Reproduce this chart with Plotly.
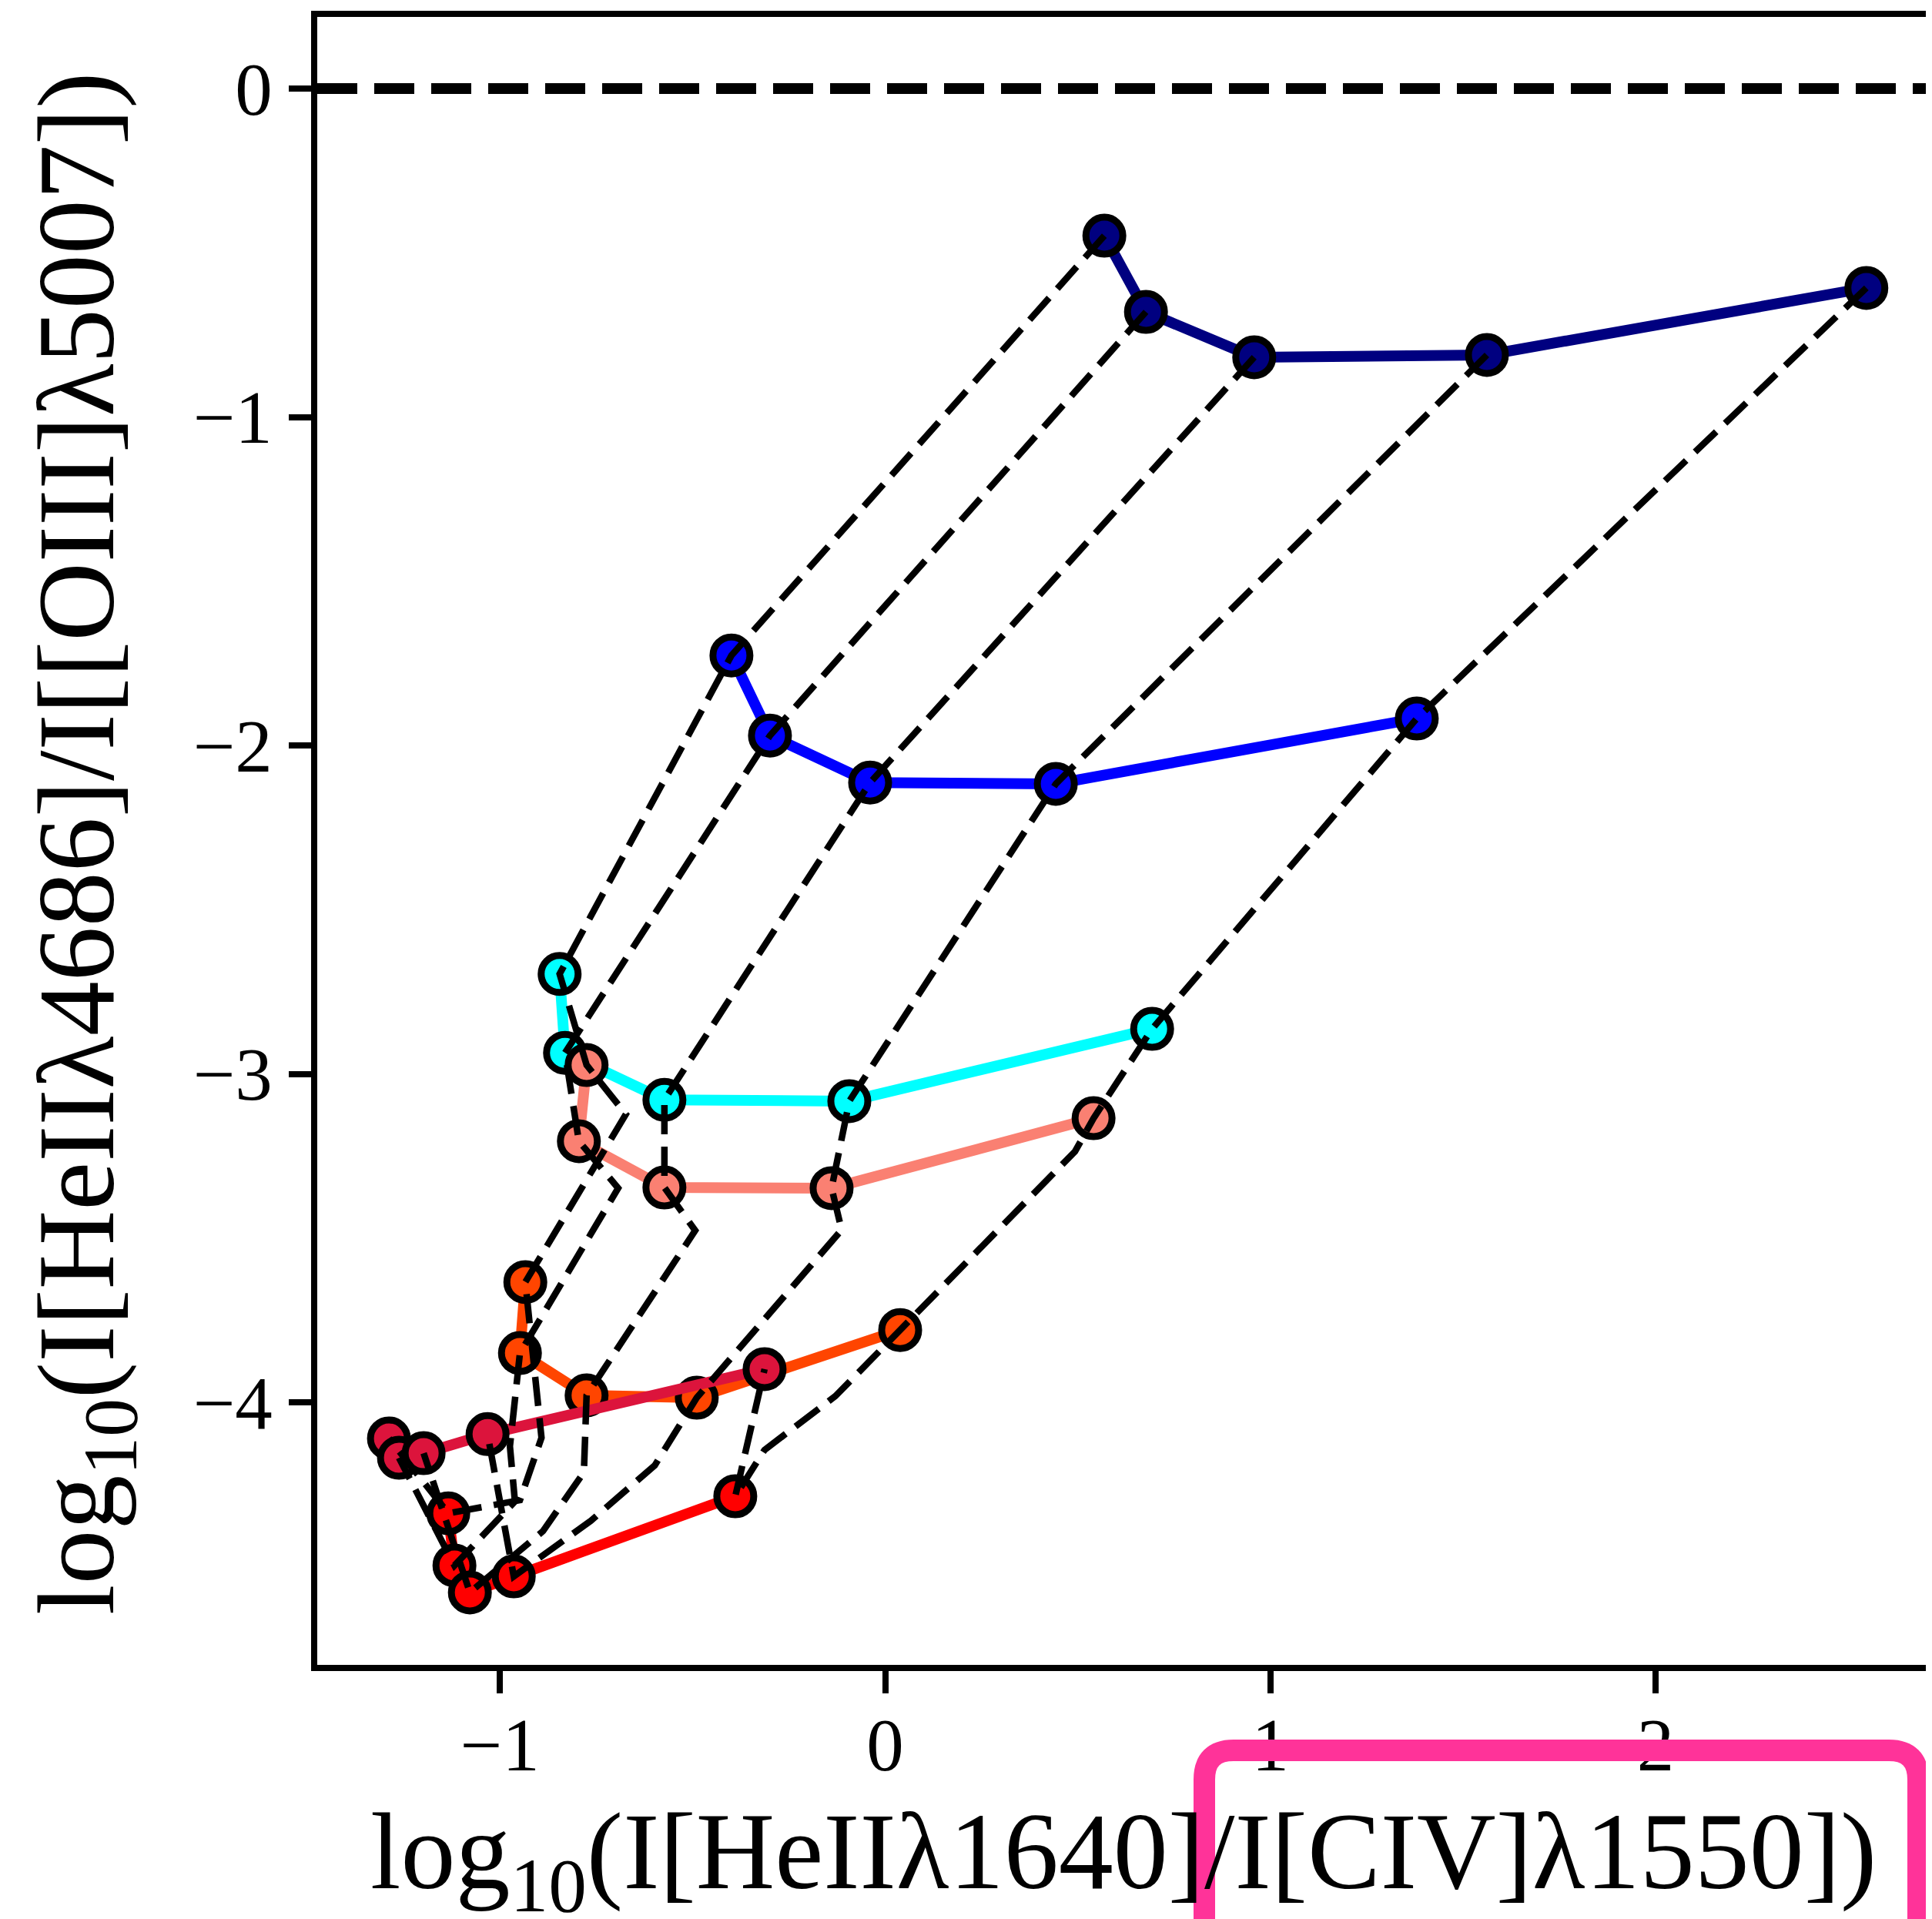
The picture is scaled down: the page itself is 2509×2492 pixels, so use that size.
import plotly.graph_objects as go

# ---------------- data ----------------
navy_x = [0.569, 0.677, 0.958, 1.562, 2.547]
navy_y = [-0.448, -0.680, -0.818, -0.811, -0.607]
blue_x = [-0.399, -0.299, -0.039, 0.443, 1.380]
blue_y = [-1.726, -1.970, -2.113, -2.117, -1.918]
cyan_x = [-0.845, -0.831, -0.573, -0.093, 0.693]
cyan_y = [-2.696, -2.936, -3.079, -3.083, -2.863]
salmon_x = [-0.775, -0.795, -0.573, -0.139, 0.541]
salmon_y = [-2.973, -3.205, -3.346, -3.348, -3.135]
orangered_x = [-0.934, -0.948, -0.775, -0.489, 0.039]
orangered_y = [-3.634, -3.850, -3.979, -3.986, -3.780]
crimson_x = [-1.288, -1.262, -1.198, -1.032, -0.313]
crimson_y = [-4.110, -4.169, -4.155, -4.097, -3.899]
red_x = [-1.134, -1.118, -1.078, -0.964, -0.389]
red_y = [-4.338, -4.497, -4.579, -4.530, -4.286]

# unmarked grid points that the dashed lines bend through
gridA_x = [-0.673, -0.693, -0.493, -0.113, 0.493]
gridA_y = [-3.123, -3.348, -3.477, -3.475, -3.236]
gridB_x = [-0.892, -0.974, -0.782, -0.598, -0.129]
gridB_y = [-4.108, -4.134, -4.213, -4.192, -3.981]
gridC_x = [-0.948, -0.961, -0.888, -0.764, -0.313]
gridC_y = [-4.298, -4.302, -4.392, -4.361, -4.145]

x_ticks = [-1, 0, 1, 2]
x_ticklabels = ["\u22121", "0", "1", "2"]
y_ticks = [0, -1, -2, -3, -4]
y_ticklabels = ["0", "\u22121", "\u22122", "\u22123", "\u22124"]

x_title = "log<sub>10</sub>(I[HeII\u03bb1640]/I[CIV]\u03bb1550])"
y_title = "log<sub>10</sub>(I[HeII\u03bb4686]/I[[OIII]\u03bb5007])"

# ---------------- styling / layout ----------------
OFF = 8                      # browser body margin
W, H = 2509 - OFF, 2492 - OFF
L = 412 - OFF
T = 22 - OFF
PLOT_BOTTOM = 2162 - OFF
B = H - PLOT_BOTTOM
R = 0
FONT = "Liberation Serif"

marked = [
    (navy_x, navy_y, "#000080"),
    (blue_x, blue_y, "#0000FF"),
    (cyan_x, cyan_y, "#00FFFF"),
    (salmon_x, salmon_y, "#FA8072"),
    (orangered_x, orangered_y, "#FF4500"),
    (crimson_x, crimson_y, "#DC143C"),
    (red_x, red_y, "#FF0000"),
]

fig = go.Figure()
for xs, ys, col in marked:
    fig.add_trace(go.Scatter(
        x=xs, y=ys, mode="lines+markers",
        line=dict(color=col, width=14),
        marker=dict(color=col, size=48, line=dict(color="black", width=9)),
        showlegend=False, hoverinfo="skip",
    ))

# dashed iso-lines: same index across the sequence of models
chain = [
    (navy_x, navy_y), (blue_x, blue_y), (cyan_x, cyan_y), (salmon_x, salmon_y),
    (gridA_x, gridA_y), (orangered_x, orangered_y), (gridB_x, gridB_y),
    (gridC_x, gridC_y), (red_x, red_y), (crimson_x, crimson_y),
]
for i in range(len(navy_x)):
    fig.add_trace(go.Scatter(
        x=[c[0][i] for c in chain], y=[c[1][i] for c in chain],
        mode="lines", line=dict(color="black", width=8.5, dash="38px,16px"),
        showlegend=False, hoverinfo="skip",
    ))

plot_w = W - L - R
plot_h = H - T - B
px_per_x = 500.3
px_per_y = 426.5
x0_px = 1149.5 - 412         # pixel of x=0 from plot left edge
y0_px = 115 - 22             # pixel of y=0 from plot top edge
x_range = [-x0_px / px_per_x, (plot_w - x0_px) / px_per_x]
y_range = [-(plot_h - y0_px) / px_per_y, y0_px / px_per_y]

axis_common = dict(
    showline=True, linecolor="black", linewidth=7.5,
    ticks="outside", ticklen=29, tickwidth=7.5, tickcolor="black",
    showgrid=False, zeroline=False,
    tickfont=dict(family=FONT, size=97, color="black"),
)
fig.update_xaxes(range=x_range, tickvals=x_ticks, ticktext=x_ticklabels,
                 mirror=True, ticklabelstandoff=-16, **axis_common)
fig.update_yaxes(range=y_range, tickvals=y_ticks, ticktext=y_ticklabels,
                 mirror=False, ticklabelstandoff=2, **axis_common)

# horizontal reference line at zero
fig.add_shape(type="line", xref="paper", yref="y", x0=0, x1=1, y0=0, y1=0,
              line=dict(color="black", width=14, dash="52px,22px"))


def px2paper(X, Y):
    """reference-image pixel -> paper coordinates"""
    fx, fy = X - OFF, Y - OFF
    return (fx - L) / plot_w, (H - B - fy) / plot_h


# hand-drawn pink highlight box around part of the x label
lx, rx, ty, by, rr = 1564, 2491, 2273, 2560, 38
pts = [px2paper(lx, by), px2paper(lx, ty + rr), px2paper(lx, ty), px2paper(lx + rr, ty),
       px2paper(rx - rr, ty), px2paper(rx, ty), px2paper(rx, ty + rr), px2paper(rx, by)]
path = ("M {0[0]},{0[1]} L {1[0]},{1[1]} Q {2[0]},{2[1]} {3[0]},{3[1]} "
        "L {4[0]},{4[1]} Q {5[0]},{5[1]} {6[0]},{6[1]} L {7[0]},{7[1]}").format(*pts)
fig.add_shape(type="path", xref="paper", yref="paper", path=path,
              line=dict(color="#FF3399", width=28), layer="above")

# axis titles
fig.add_annotation(text=x_title, xref="paper", yref="paper",
                   x=px2paper(1459, 0)[0], y=px2paper(0, 2414)[1],
                   xanchor="center", yanchor="middle", showarrow=False,
                   font=dict(family=FONT, size=142, color="black"))
fig.add_annotation(text=y_title, xref="paper", yref="paper",
                   x=px2paper(109, 0)[0], y=px2paper(0, 1096)[1],
                   xanchor="center", yanchor="middle", textangle=-90, showarrow=False,
                   font=dict(family=FONT, size=142, color="black"))

fig.update_layout(
    width=W, height=H, autosize=False,
    margin=dict(l=L, r=R, t=T, b=B, pad=0),
    plot_bgcolor="white", paper_bgcolor="white",
)

fig.write_html("out.html")
